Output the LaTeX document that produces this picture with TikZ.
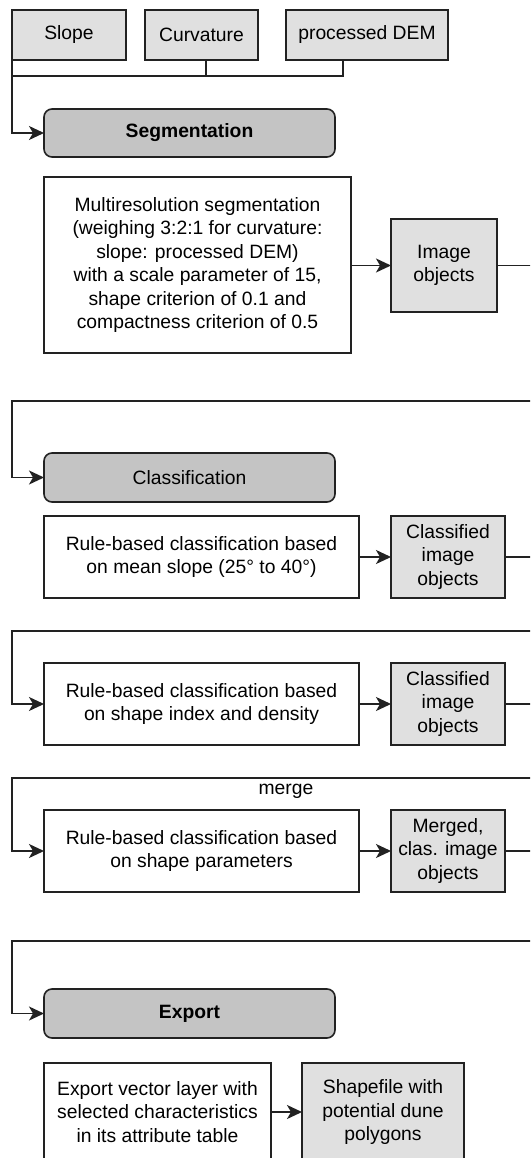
\documentclass[tikz,border=0pt]{standalone}
\usepackage{fontspec}
\setmainfont{Liberation Sans}
\usetikzlibrary{arrows.meta}
\definecolor{edge}{HTML}{222222}
\definecolor{lightfill}{HTML}{E0E0E0}
\definecolor{darkfill}{HTML}{C4C4C4}
\tikzset{
  base/.style={draw=edge, line width=1.6pt, inner sep=0pt, outer sep=0pt,
    align=center, font=\fontsize{19.3}{23.5}\selectfont},
  datain/.style={base, fill=lightfill},
  stage/.style={base, fill=darkfill, rounded corners=8pt},
  process/.style={base, fill=white},
  result/.style={base, fill=lightfill},
  link/.style={draw=edge, line width=1.6pt},
  flow/.style={link, -{Stealth[length=15pt,width=14pt,inset=4pt]}},
}
\begin{document}
\begin{tikzpicture}[x=1pt, y=-1pt]
\useasboundingbox (0,0) rectangle (530,1158);
\clip (0,0) rectangle (530,1158);
\fill[white] (0,0) rectangle (530,1158);

% input layers
\node[datain, minimum width=114pt, minimum height=50pt] (slope) at (69,35) {Slope};
\node[datain, minimum width=113pt, minimum height=50pt] (curv) at (201.5,35) {Curvature};
\node[datain, minimum width=162pt, minimum height=50pt] (dem) at (367,35) {processed DEM};

% segmentation
\node[stage, minimum width=291pt, minimum height=48pt, font=\fontsize{19.3}{23.5}\selectfont\bfseries] (seg) at (189.5,133) {Segmentation};
\node[process, minimum width=307pt, minimum height=176pt] (multi) at (197.5,265) {Multiresolution segmentation\\(weighing 3:2:1 for curvature:\\slope: processed DEM)\\with a scale parameter of 15,\\shape criterion of 0.1 and\\compactness criterion of 0.5};
\node[result, minimum width=106pt, minimum height=93pt] (img) at (444,265.5) {Image\\objects};

% classification
\node[stage, minimum width=291pt, minimum height=49pt] (class) at (189.5,477.5) {Classification};
\node[process, minimum width=315pt, minimum height=82pt] (rb1) at (201.5,557) {Rule-based classification based\\on mean slope (25° to 40°)};
\node[result, minimum width=114pt, minimum height=82pt] (cl1) at (448,557) {Classified\\image\\objects};

\node[process, minimum width=315pt, minimum height=82pt] (rb2) at (201.5,704) {Rule-based classification based\\on shape index and density};
\node[result, minimum width=114pt, minimum height=82pt] (cl2) at (448,704) {Classified\\image\\objects};

\node[base, draw=none] (merge) at (286,791) {merge};
\node[process, minimum width=315pt, minimum height=82pt] (rb3) at (201.5,851) {Rule-based classification based\\on shape parameters};
\node[result, minimum width=114pt, minimum height=82pt] (mg) at (448,851) {Merged,\\clas. image\\objects};

% export
\node[stage, minimum width=291pt, minimum height=49pt, font=\fontsize{19.3}{23.5}\selectfont\bfseries] (exp) at (189.5,1013.5) {Export};
\node[process, minimum width=227pt, minimum height=98pt] (vec) at (157.5,1112) {Export vector layer with\\selected characteristics\\in its attribute table};
\node[result, minimum width=162pt, minimum height=98pt] (shp) at (383,1112) {Shapefile with\\potential dune\\polygons};

% collector line below the input layers
\coordinate (join) at (12,76);
\draw[link] ([xshift=4.5pt]curv.south) -- ++(0,16);
\draw[link] ([xshift=-24pt]dem.south) |- (join);
\draw[flow] (slope.south west) |- (seg.west);

% segmentation chain
\draw[flow] (multi.east |- img.west) -- (img.west);

% return loops running round the right side
\draw[flow] (img.east) -- (533,265.5) -- (533,401) -- (12,401) |- (class.west);
\draw[flow] (rb1.east) -- (cl1.west);
\draw[flow] (cl1.east) -- (533,557) -- (533,631) -- (12,631) |- (rb2.west);
\draw[flow] (rb2.east) -- (cl2.west);
\draw[flow] (cl2.east) -- (533,704) -- (533,778) -- (12,778) |- (rb3.west);
\draw[flow] (rb3.east) -- (mg.west);
\draw[flow] (mg.east) -- (533,851) -- (533,941) -- (12,941) |- (exp.west);
\draw[flow] (vec.east) -- (shp.west);
\end{tikzpicture}
\end{document}
